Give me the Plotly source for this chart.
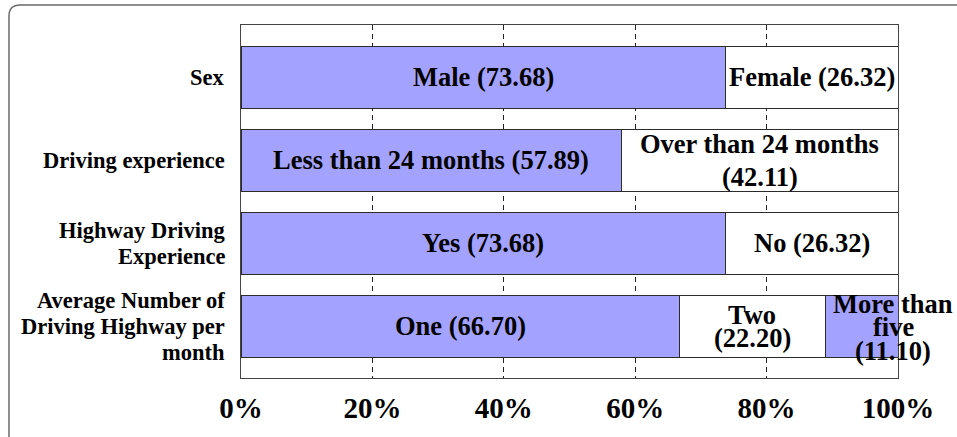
import plotly.graph_objects as go

# Survey breakdown (percent of respondents)
categories = [
    "Sex",
    "Driving experience",
    "Highway Driving\nExperience",
    "Average Number of\nDriving Highway per\nmonth",
]
first_names = ["Male", "Less than 24 months", "Yes", "One"]
first_values = [73.68, 57.89, 73.68, 66.70]
second_names = ["Female", "Over than 24 months", "No", "Two"]
second_values = [26.32, 42.11, 26.32, 22.20]
third_names = ["", "", "", "More than\nfive"]
third_values = [0, 0, 0, 11.10]
x_ticks = [0, 20, 40, 60, 80, 100]
x_tick_labels = ["0%", "20%", "40%", "60%", "80%", "100%"]

LAVENDER = "#A3A3FF"
FONT = "Liberation Serif, Times New Roman, serif"
EDGE = dict(color="#2b2b2b", width=1)

# layout of the label text inside each segment: separator between name and value,
# line spacing (px)
second_sep = [" ", "\n", " ", "\n"]
second_spacing = [30, 33, 30, 23]
third_sep = ["", "", "", "\n"]

fig = go.Figure()
segments = [
    (first_names, first_values, LAVENDER),
    (second_names, second_values, "white"),
    (third_names, third_values, LAVENDER),
]
for names, values, color in segments:
    fig.add_trace(go.Bar(
        y=categories, x=values, orientation="h",
        marker=dict(color=color, line=EDGE),
        width=0.747, showlegend=False, hoverinfo="skip",
    ))

annotations = []


def add_text(text, x, cat, spacing, size, xref="x", offset=0,
             xanchor="center", xshift=0):
    lines = text.split("\n")
    n = len(lines)
    for i, line in enumerate(lines):
        annotations.append(dict(
            x=x, y=cat, xref=xref, yref="y",
            text="<b>%s</b>" % line, showarrow=False,
            xanchor=xanchor, yanchor="middle", xshift=xshift,
            yshift=-(i - (n - 1) / 2) * spacing - offset,
            font=dict(family=FONT, size=size, color="black"),
        ))


for i, cat in enumerate(categories):
    v1, v2, v3 = first_values[i], second_values[i], third_values[i]
    # category name to the left of the plot
    add_text(cat, 0, cat, 26, 22.5, xref="paper", xanchor="right", xshift=-14)
    add_text("%s (%.2f)" % (first_names[i], v1), v1 / 2, cat, 30, 26.5)
    add_text("%s%s(%.2f)" % (second_names[i], second_sep[i], v2),
             v1 + v2 / 2, cat, second_spacing[i], 26.5)
    if v3 > 0:
        # the last, narrow segment's label spills past the right edge
        add_text("%s%s(%.2f)" % (third_names[i], third_sep[i], v3),
                 v1 + v2, cat, 23.5, 26.5, offset=1, xanchor="center", xshift=68)

# rounded frame around the figure (top and left edges)
L, R, T, B = 241, 898, 25, 378
W, H = R - L, B - T


def px(x):
    return (x - L) / W


def py(y):
    return (B - y) / H


frame_path = "M %f %f L %f %f Q %f %f %f %f L %f %f" % (
    px(9), py(445), px(9), py(16), px(9), py(5), px(20), py(5), px(960), py(5))

fig.update_layout(
    barmode="stack",
    width=957, height=437,
    margin=dict(l=L, r=957 - R, t=T, b=437 - B, pad=0),
    paper_bgcolor="white", plot_bgcolor="white",
    annotations=annotations,
    shapes=[dict(type="path", path=frame_path, xref="paper", yref="paper",
                 line=dict(color="#6a6a6a", width=1.5), layer="above")],
    xaxis=dict(
        range=[0, 100], tickvals=x_ticks, ticktext=x_tick_labels,
        tickfont=dict(family=FONT, size=29, color="black", weight="bold"),
        showgrid=True, gridcolor="#222222", griddash="5px,4px", gridwidth=1,
        zeroline=False, showline=True, linecolor="#444444", linewidth=1,
        mirror=True, ticks="", ticklabelstandoff=4, automargin=False,
        fixedrange=True,
    ),
    yaxis=dict(
        categoryorder="array", categoryarray=categories,
        range=[3.5 + 0.1265, -0.5 - 0.1265],
        showticklabels=False, automargin=False,
        showgrid=False, zeroline=False, showline=True, linecolor="#444444",
        linewidth=1, mirror=True, ticks="", fixedrange=True,
    ),
)

fig.write_html("out.html")
